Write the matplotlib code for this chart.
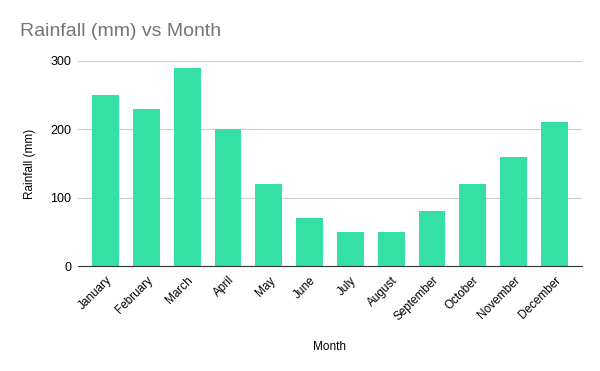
import matplotlib.pyplot as plt

plt.rcParams['font.family'] = ['Liberation Sans', 'DejaVu Sans']

months = ['January', 'February', 'March', 'April', 'May', 'June', 'July',
          'August', 'September', 'October', 'November', 'December']
rainfall = [250, 230, 290, 200, 120, 70, 50, 50, 80, 120, 160, 210]

fig = plt.figure(figsize=(6, 3.71), dpi=100)
ax = fig.add_axes([0.13, 0.283, 0.84, 0.553])

x = range(len(months))
ax.bar(x, rainfall, width=0.66, color='#35e0a5', zorder=3)

ax.set_xlim(-0.675, 11.675)
ax.set_ylim(0, 300)
ax.set_yticks([0, 100, 200, 300])
ax.set_xticks(list(x))
ax.set_xticklabels(months, rotation=45, ha='right', rotation_mode='anchor', fontsize=8.5)
ax.tick_params(axis='y', labelsize=9, length=0, pad=5)
ax.tick_params(axis='x', length=0, pad=6)
ax.grid(axis='y', color='#cccccc', lw=0.8, zorder=0)
for s in ['top', 'right', 'left']:
    ax.spines[s].set_visible(False)
ax.spines['bottom'].set_color('#333333')
ax.spines['bottom'].set_zorder(4)

ax.set_xlabel('Month', fontsize=8.5, labelpad=13)
ax.set_ylabel('Rainfall (mm)', fontsize=8.5, labelpad=10)

fig.text(20 / 600, 1 - 32 / 371, 'Rainfall (mm) vs Month', fontsize=14,
         color='#757575', va='center', ha='left')

fig.savefig('out.png', dpi=100)
